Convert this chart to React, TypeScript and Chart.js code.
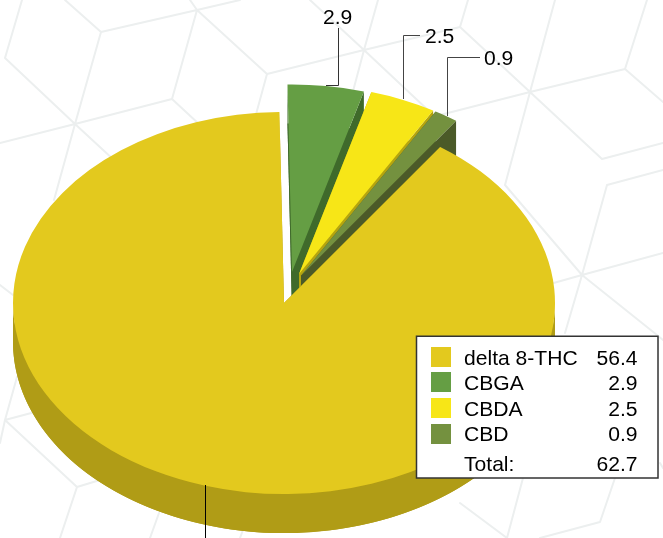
import React, { useEffect, useRef } from "react";
import { Chart, registerables } from "chart.js";

Chart.register(...registerables);

const categories = ["delta 8-THC", "CBGA", "CBDA", "CBD"];
const values = [56.4, 2.9, 2.5, 0.9];
const valueLabels = ["56.4", "2.9", "2.5", "0.9"];
const totalLabel = "62.7";
const topColors = ["#E3C91E", "#659E44", "#F7E617", "#74913F"];
const sideColors = ["#B09C16", "#3F6A2B", "#B5A50F", "#4B5A28"];

const W = 663;
const H = 538;
const CX = 284;
const CY = 303;
const TILT = 0.705;
const DEPTH = 39;
const FONT = '21.1px "Liberation Sans", Arial, sans-serif';
const explode: [number, number][] = [[0, 0], [8, -31], [15, -29], [17, -27.3]];
const pullRadius = [271, 266, 268, 269];

// decorative background line work
const bgLines: number[][] = [
  [22,0,5,58],[5,58,75,124],[65,0,101,32],[101,32,75,124],[101,32,197,10],[197,10,172,99],[197,10,267,74],
  [172,99,200,125],[75,124,172,99],[75,124,0,143],[75,124,115,161],[75,124,54,200],[267,74,364,50],[267,74,255,118],
  [190,0,197,10],[197,10,240,0],[364,50,378,0],[364,50,352,95],[364,50,310,0],[364,50,460,27],[364,50,430,112],
  [460,27,468,0],[460,27,530,92],[530,92,555,0],[530,92,440,115],[530,92,625,69],[625,69,647,0],[625,69,663,102],
  [530,92,602,159],[602,159,663,143],[530,92,505,185],[505,185,582,275],[607,185,663,170],[607,185,582,275],
  [582,275,663,253],[582,275,565,333],[582,275,657,335],[582,275,550,284],[657,335,663,340],[17,377,5,420],[5,420,35,412],
  [5,420,0,443],[5,420,77,487],[77,487,100,480],[77,487,60,538],[159,513,150,538],[243,530,240,538],[0,285,13,295],
  [523,478,507,538],[460,503,507,538],[615,478,600,522],[600,522,540,538],[660,463,663,468],
];

const cosmetic = {
  id: "pie3d",
  beforeDraw(chart: any) {
    const ctx = chart.ctx;
    ctx.save();
    ctx.fillStyle = "#FFFFFF";
    ctx.fillRect(0, 0, W, H);
    ctx.strokeStyle = "#ECEFEF";
    ctx.lineWidth = 2;
    ctx.lineCap = "round";
    ctx.beginPath();
    for (const [a, b, c, d] of bgLines) {
      ctx.moveTo(a, b);
      ctx.lineTo(c, d);
    }
    ctx.stroke();
    ctx.restore();
  },
  beforeDatasetDraw(chart: any) {
    const ctx = chart.ctx;
    const arcs = chart.getDatasetMeta(0).data;
    // back-to-front: exploded slices first, then the large slice
    const order = [1, 2, 3, 0];
    for (const i of order) {
      const arc = arcs[i];
      const r = pullRadius[i];
      const saved = arc.outerRadius;
      arc.outerRadius = r;
      const place = (extra: number) => {
        ctx.setTransform(1, 0, 0, 1, 0, 0);
        ctx.translate(CX + explode[i][0], CY + explode[i][1] + extra);
        ctx.scale(1, TILT);
        ctx.translate(-arc.x, -arc.y);
      };
      const edge = (angle: number) => {
        const px = arc.x + r * Math.cos(angle);
        const py = arc.y + r * Math.sin(angle);
        ctx.beginPath();
        place(0);
        ctx.moveTo(arc.x, arc.y);
        ctx.lineTo(px, py);
        place(DEPTH);
        ctx.lineTo(px, py);
        ctx.lineTo(arc.x, arc.y);
        ctx.closePath();
        ctx.fill();
      };
      ctx.save();
      ctx.fillStyle = sideColors[i];
      // floor of the slice
      place(DEPTH);
      ctx.beginPath();
      ctx.moveTo(arc.x, arc.y);
      ctx.arc(arc.x, arc.y, r, arc.startAngle, arc.endAngle);
      ctx.closePath();
      ctx.fill();
      // straight walls
      edge(arc.startAngle);
      edge(arc.endAngle);
      // curved wall, only where it faces the viewer
      const lo = Math.max(arc.startAngle, 0);
      const hi = Math.min(arc.endAngle, Math.PI);
      if (lo < hi) {
        ctx.beginPath();
        place(0);
        ctx.arc(arc.x, arc.y, r, lo, hi);
        place(DEPTH);
        ctx.arc(arc.x, arc.y, r, hi, lo, true);
        ctx.closePath();
        ctx.fill();
      }
      place(0);
      arc.draw(ctx);
      ctx.restore();
      arc.outerRadius = saved;
    }
    return false;
  },
  afterDatasetsDraw(chart: any) {
    const ctx = chart.ctx;
    ctx.save();
    // leaders
    const seg = (pts: number[][], color: string) => {
      ctx.strokeStyle = color;
      ctx.lineWidth = 1;
      ctx.beginPath();
      pts.forEach(([x, y], k) => (k ? ctx.lineTo(x, y) : ctx.moveTo(x, y)));
      ctx.stroke();
    };
    seg([[338.5, 28], [338.5, 85.5], [326, 85.5]], "#333333");
    seg([[420, 35.5], [403.5, 35.5], [403.5, 99]], "#444444");
    seg([[480, 57.5], [447.5, 57.5], [447.5, 116]], "#444444");
    seg([[205.5, 485], [205.5, 538]], "#000000");
    ctx.font = FONT;
    ctx.fillStyle = "#000000";
    ctx.textBaseline = "alphabetic";
    ctx.textAlign = "left";
    ctx.fillText(valueLabels[1], 323, 24);
    ctx.fillText(valueLabels[2], 425, 43);
    ctx.fillText(valueLabels[3], 484, 65);
    // legend
    ctx.fillStyle = "#FFFFFF";
    ctx.fillRect(416.5, 336, 241.5, 142);
    ctx.strokeStyle = "#333333";
    ctx.lineWidth = 1.5;
    ctx.strokeRect(416.5, 336.25, 241.5, 141.75);
    const swatchY = [347, 372, 398, 424];
    const baseY = [365, 389.5, 415.5, 440.5];
    categories.forEach((name, i) => {
      ctx.fillStyle = topColors[i];
      ctx.fillRect(431, swatchY[i], 20, 20);
      ctx.fillStyle = "#000000";
      ctx.textAlign = "left";
      ctx.fillText(name, 464, baseY[i]);
      ctx.textAlign = "right";
      ctx.fillText(valueLabels[i], 637.5, baseY[i]);
    });
    ctx.textAlign = "left";
    ctx.fillText("Total:", 464, 470.5);
    ctx.textAlign = "right";
    ctx.fillText(totalLabel, 637.5, 470.5);
    ctx.restore();
  },
};

export default function App() {
  const ref = useRef<HTMLCanvasElement>(null);
  useEffect(() => {
    const chart = new Chart(ref.current as HTMLCanvasElement, {
      type: "pie",
      data: {
        labels: categories,
        datasets: [
          {
            data: values,
            backgroundColor: topColors,
            borderWidth: 0,
            clip: false,
          } as any,
        ],
      },
      options: {
        responsive: false,
        animation: false,
        rotation: 35.2,
        radius: 271,
        layout: { padding: 0 },
        plugins: { legend: { display: false }, tooltip: { enabled: false } },
      },
      plugins: [cosmetic],
    });
    return () => chart.destroy();
  }, []);
  return (
    <div style={{ position: "absolute", left: 0, top: 0, width: W, height: H, overflow: "hidden" }}>
      <canvas ref={ref} width={W} height={H} style={{ display: "block" }} />
    </div>
  );
}
